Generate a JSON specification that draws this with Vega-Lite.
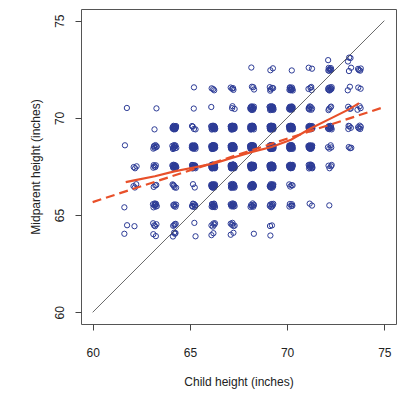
{
"$schema": "https://vega.github.io/schema/vega-lite/v6.json",
"width": 315, "height": 315,
"autosize": {"type": "none"},
"padding": {"left": 81, "top": 9, "right": 9, "bottom": 71},
"background": "white",
"config": {
"view": {"stroke": "#555555", "strokeWidth": 1},
"font": "Liberation Sans",
"axis": {"grid": false, "domain": false, "tickColor": "#444444", "tickSize": 6, "tickWidth": 1, "labelFont": "Liberation Sans", "labelFontSize": 12, "labelColor": "#222222", "titleFont": "Liberation Sans", "titleFontSize": 12, "titleFontWeight": "normal", "titleColor": "#222222"}
},
"datasets": {
"diag": [{"c":60,"p":60},{"c":75,"p":75}],
"reg": [{"c":60,"p":65.67},{"c":75,"p":70.56}],
"lo": [{"c":61.7,"p":66.70},{"c":62.2,"p":66.80},{"c":63.2,"p":67.00},{"c":64.2,"p":67.25},{"c":65.2,"p":67.45},{"c":66.2,"p":67.65},{"c":67.2,"p":67.95},{"c":68.2,"p":68.25},{"c":69.2,"p":68.50},{"c":70.2,"p":68.88},{"c":71.2,"p":69.45},{"c":72.2,"p":69.95},{"c":73.2,"p":70.45},{"c":73.7,"p":70.76}],
"pts": [
{"c":72.11,"p":72.97},{"c":73.19,"p":73.10},{"c":73.26,"p":73.08},{"c":73.13,"p":72.90},
{"c":68.16,"p":72.59},{"c":69.27,"p":72.55},{"c":69.14,"p":72.45},{"c":70.24,"p":72.44},{"c":71.28,"p":72.53},{"c":71.11,"p":72.58},
{"c":72.18,"p":72.51},{"c":72.25,"p":72.56},{"c":72.12,"p":72.44},{"c":72.22,"p":72.47},{"c":72.14,"p":72.57},{"c":72.27,"p":72.48},{"c":72.17,"p":72.42},
{"c":73.29,"p":72.58},{"c":73.18,"p":72.41},{"c":73.76,"p":72.43},{"c":73.65,"p":72.52},{"c":73.79,"p":72.54},{"c":73.69,"p":72.46},
{"c":65.21,"p":71.57},{"c":66.25,"p":71.42},{"c":66.12,"p":71.52},{"c":66.20,"p":71.48},
{"c":67.22,"p":71.53},{"c":67.10,"p":71.56},{"c":67.24,"p":71.44},{"c":67.17,"p":71.50},
{"c":68.30,"p":71.46},{"c":68.19,"p":71.60},{"c":68.26,"p":71.58},
{"c":69.13,"p":71.40},{"c":69.23,"p":71.54},{"c":69.16,"p":71.47},{"c":69.28,"p":71.53},{"c":69.11,"p":71.58},
{"c":70.21,"p":71.43},{"c":70.15,"p":71.55},{"c":70.29,"p":71.41},{"c":70.18,"p":71.51},{"c":70.25,"p":71.56},{"c":70.12,"p":71.44},{"c":70.22,"p":71.47},{"c":70.14,"p":71.57},{"c":70.27,"p":71.48},{"c":70.17,"p":71.42},
{"c":71.24,"p":71.59},{"c":71.10,"p":71.49},{"c":71.20,"p":71.55},{"c":71.26,"p":71.43},
{"c":72.23,"p":71.45},{"c":72.13,"p":71.54},{"c":72.29,"p":71.58},{"c":72.18,"p":71.41},{"c":72.26,"p":71.51},{"c":72.11,"p":71.47},{"c":72.21,"p":71.57},{"c":72.15,"p":71.43},{"c":72.28,"p":71.49},
{"c":73.23,"p":71.60},{"c":73.12,"p":71.42},{"c":73.78,"p":71.50},{"c":73.66,"p":71.56},
{"c":61.76,"p":70.51},{"c":63.28,"p":70.49},{"c":65.20,"p":70.48},{"c":66.10,"p":70.56},
{"c":67.17,"p":70.50},{"c":67.30,"p":70.46},{"c":67.19,"p":70.60},
{"c":68.23,"p":70.45},{"c":68.13,"p":70.54},{"c":68.29,"p":70.58},{"c":68.18,"p":70.41},{"c":68.26,"p":70.51},{"c":68.11,"p":70.47},{"c":68.21,"p":70.57},{"c":68.15,"p":70.43},{"c":68.28,"p":70.49},{"c":68.16,"p":70.59},{"c":68.25,"p":70.42},{"c":68.12,"p":70.52},
{"c":69.20,"p":70.48},{"c":69.27,"p":70.55},{"c":69.14,"p":70.45},{"c":69.22,"p":70.53},{"c":69.10,"p":70.56},{"c":69.24,"p":70.44},{"c":69.17,"p":70.50},{"c":69.30,"p":70.46},{"c":69.19,"p":70.60},{"c":69.26,"p":70.58},{"c":69.13,"p":70.40},{"c":69.23,"p":70.54},{"c":69.16,"p":70.47},{"c":69.28,"p":70.53},{"c":69.11,"p":70.58},{"c":69.21,"p":70.43},{"c":69.15,"p":70.55},{"c":69.29,"p":70.41},
{"c":70.18,"p":70.51},{"c":70.25,"p":70.56},{"c":70.12,"p":70.44},{"c":70.22,"p":70.47},{"c":70.14,"p":70.57},{"c":70.27,"p":70.48},{"c":70.17,"p":70.42},{"c":70.24,"p":70.59},{"c":70.10,"p":70.49},{"c":70.20,"p":70.55},{"c":70.26,"p":70.43},{"c":70.15,"p":70.52},{"c":70.29,"p":70.54},{"c":70.19,"p":70.46},
{"c":71.11,"p":70.47},{"c":71.21,"p":70.57},{"c":71.15,"p":70.43},{"c":71.28,"p":70.49},{"c":71.16,"p":70.59},{"c":71.25,"p":70.42},{"c":71.12,"p":70.52},
{"c":72.26,"p":70.58},{"c":72.13,"p":70.40},{"c":72.23,"p":70.54},{"c":72.16,"p":70.47},
{"c":73.22,"p":70.47},{"c":73.14,"p":70.57},{"c":73.27,"p":70.48},
{"c":73.73,"p":70.60},{"c":73.62,"p":70.42},{"c":73.78,"p":70.50},
{"c":63.18,"p":69.41},
{"c":64.23,"p":69.45},{"c":64.13,"p":69.54},{"c":64.29,"p":69.58},{"c":64.18,"p":69.41},{"c":64.26,"p":69.51},{"c":64.11,"p":69.47},{"c":64.21,"p":69.57},{"c":64.15,"p":69.43},{"c":64.28,"p":69.49},{"c":64.16,"p":69.59},{"c":64.25,"p":69.42},{"c":64.12,"p":69.52},{"c":64.20,"p":69.48},{"c":64.27,"p":69.55},{"c":64.14,"p":69.45},{"c":64.22,"p":69.53},
{"c":65.11,"p":69.58},{"c":65.21,"p":69.43},{"c":65.15,"p":69.55},{"c":65.29,"p":69.41},
{"c":66.10,"p":69.56},{"c":66.24,"p":69.44},{"c":66.17,"p":69.50},{"c":66.30,"p":69.46},{"c":66.19,"p":69.60},{"c":66.26,"p":69.58},{"c":66.13,"p":69.40},{"c":66.23,"p":69.54},{"c":66.16,"p":69.47},{"c":66.28,"p":69.53},{"c":66.11,"p":69.58},{"c":66.21,"p":69.43},{"c":66.15,"p":69.55},{"c":66.29,"p":69.41},{"c":66.18,"p":69.51},{"c":66.25,"p":69.56},{"c":66.12,"p":69.44},
{"c":67.23,"p":69.45},{"c":67.13,"p":69.54},{"c":67.29,"p":69.58},{"c":67.18,"p":69.41},{"c":67.26,"p":69.51},{"c":67.11,"p":69.47},{"c":67.21,"p":69.57},{"c":67.15,"p":69.43},{"c":67.28,"p":69.49},{"c":67.16,"p":69.59},{"c":67.25,"p":69.42},{"c":67.12,"p":69.52},{"c":67.20,"p":69.48},{"c":67.27,"p":69.55},{"c":67.14,"p":69.45},{"c":67.22,"p":69.53},{"c":67.10,"p":69.56},{"c":67.24,"p":69.44},{"c":67.17,"p":69.50},{"c":67.30,"p":69.46},{"c":67.19,"p":69.60},{"c":67.26,"p":69.58},{"c":67.13,"p":69.40},{"c":67.23,"p":69.54},{"c":67.16,"p":69.47},{"c":67.28,"p":69.53},{"c":67.11,"p":69.58},
{"c":68.19,"p":69.60},{"c":68.26,"p":69.58},{"c":68.13,"p":69.40},{"c":68.23,"p":69.54},{"c":68.16,"p":69.47},{"c":68.28,"p":69.53},{"c":68.11,"p":69.58},{"c":68.21,"p":69.43},{"c":68.15,"p":69.55},{"c":68.29,"p":69.41},{"c":68.18,"p":69.51},{"c":68.25,"p":69.56},{"c":68.12,"p":69.44},{"c":68.22,"p":69.47},{"c":68.14,"p":69.57},{"c":68.27,"p":69.48},{"c":68.17,"p":69.42},{"c":68.24,"p":69.59},{"c":68.10,"p":69.49},{"c":68.20,"p":69.55},
{"c":69.23,"p":69.45},{"c":69.13,"p":69.54},{"c":69.29,"p":69.58},{"c":69.18,"p":69.41},{"c":69.26,"p":69.51},{"c":69.11,"p":69.47},{"c":69.21,"p":69.57},{"c":69.15,"p":69.43},{"c":69.28,"p":69.49},{"c":69.16,"p":69.59},{"c":69.25,"p":69.42},{"c":69.12,"p":69.52},{"c":69.20,"p":69.48},{"c":69.27,"p":69.55},{"c":69.14,"p":69.45},{"c":69.22,"p":69.53},{"c":69.10,"p":69.56},{"c":69.24,"p":69.44},{"c":69.17,"p":69.50},{"c":69.30,"p":69.46},{"c":69.19,"p":69.60},{"c":69.26,"p":69.58},{"c":69.13,"p":69.40},{"c":69.23,"p":69.54},{"c":69.16,"p":69.47},{"c":69.28,"p":69.53},{"c":69.11,"p":69.58},{"c":69.21,"p":69.43},{"c":69.15,"p":69.55},{"c":69.29,"p":69.41},{"c":69.18,"p":69.51},{"c":69.25,"p":69.56},{"c":69.12,"p":69.44},
{"c":70.25,"p":69.42},{"c":70.12,"p":69.52},{"c":70.20,"p":69.48},{"c":70.27,"p":69.55},{"c":70.14,"p":69.45},{"c":70.22,"p":69.53},{"c":70.10,"p":69.56},{"c":70.24,"p":69.44},{"c":70.17,"p":69.50},{"c":70.30,"p":69.46},{"c":70.19,"p":69.60},{"c":70.26,"p":69.58},{"c":70.13,"p":69.40},{"c":70.23,"p":69.54},{"c":70.16,"p":69.47},{"c":70.28,"p":69.53},{"c":70.11,"p":69.58},{"c":70.21,"p":69.43},{"c":70.15,"p":69.55},{"c":70.29,"p":69.41},{"c":70.18,"p":69.51},{"c":70.25,"p":69.56},{"c":70.12,"p":69.44},{"c":70.22,"p":69.47},{"c":70.14,"p":69.57},
{"c":71.23,"p":69.45},{"c":71.13,"p":69.54},{"c":71.29,"p":69.58},{"c":71.18,"p":69.41},{"c":71.26,"p":69.51},{"c":71.11,"p":69.47},{"c":71.21,"p":69.57},{"c":71.15,"p":69.43},{"c":71.28,"p":69.49},{"c":71.16,"p":69.59},{"c":71.25,"p":69.42},{"c":71.12,"p":69.52},{"c":71.20,"p":69.48},{"c":71.27,"p":69.55},{"c":71.14,"p":69.45},{"c":71.22,"p":69.53},{"c":71.10,"p":69.56},{"c":71.24,"p":69.44},{"c":71.17,"p":69.50},{"c":71.30,"p":69.46},
{"c":72.15,"p":69.55},{"c":72.29,"p":69.41},{"c":72.18,"p":69.51},{"c":72.25,"p":69.56},{"c":72.12,"p":69.44},{"c":72.22,"p":69.47},{"c":72.14,"p":69.57},{"c":72.27,"p":69.48},{"c":72.17,"p":69.42},{"c":72.24,"p":69.59},{"c":72.10,"p":69.49},
{"c":73.21,"p":69.57},{"c":73.15,"p":69.43},{"c":73.28,"p":69.49},{"c":73.16,"p":69.59},
{"c":73.76,"p":69.43},{"c":73.65,"p":69.52},{"c":73.79,"p":69.54},{"c":73.69,"p":69.46},{"c":73.73,"p":69.60},
{"c":61.66,"p":68.59},
{"c":63.15,"p":68.52},{"c":63.29,"p":68.54},{"c":63.19,"p":68.46},{"c":63.23,"p":68.60},{"c":63.12,"p":68.42},{"c":63.28,"p":68.50},{"c":63.16,"p":68.56},
{"c":64.14,"p":68.45},{"c":64.22,"p":68.53},{"c":64.10,"p":68.56},{"c":64.24,"p":68.44},{"c":64.17,"p":68.50},{"c":64.30,"p":68.46},{"c":64.19,"p":68.60},{"c":64.26,"p":68.58},{"c":64.13,"p":68.40},{"c":64.23,"p":68.54},{"c":64.16,"p":68.47},
{"c":65.16,"p":68.47},{"c":65.28,"p":68.53},{"c":65.11,"p":68.58},{"c":65.21,"p":68.43},{"c":65.15,"p":68.55},{"c":65.29,"p":68.41},{"c":65.18,"p":68.51},{"c":65.25,"p":68.56},{"c":65.12,"p":68.44},{"c":65.22,"p":68.47},{"c":65.14,"p":68.57},{"c":65.27,"p":68.48},{"c":65.17,"p":68.42},{"c":65.24,"p":68.59},{"c":65.10,"p":68.49},{"c":65.20,"p":68.55},
{"c":66.23,"p":68.45},{"c":66.13,"p":68.54},{"c":66.29,"p":68.58},{"c":66.18,"p":68.41},{"c":66.26,"p":68.51},{"c":66.11,"p":68.47},{"c":66.21,"p":68.57},{"c":66.15,"p":68.43},{"c":66.28,"p":68.49},{"c":66.16,"p":68.59},{"c":66.25,"p":68.42},{"c":66.12,"p":68.52},{"c":66.20,"p":68.48},{"c":66.27,"p":68.55},{"c":66.14,"p":68.45},{"c":66.22,"p":68.53},{"c":66.10,"p":68.56},{"c":66.24,"p":68.44},{"c":66.17,"p":68.50},{"c":66.30,"p":68.46},{"c":66.19,"p":68.60},{"c":66.26,"p":68.58},{"c":66.13,"p":68.40},{"c":66.23,"p":68.54},{"c":66.16,"p":68.47},
{"c":67.20,"p":68.48},{"c":67.27,"p":68.55},{"c":67.14,"p":68.45},{"c":67.22,"p":68.53},{"c":67.10,"p":68.56},{"c":67.24,"p":68.44},{"c":67.17,"p":68.50},{"c":67.30,"p":68.46},{"c":67.19,"p":68.60},{"c":67.26,"p":68.58},{"c":67.13,"p":68.40},{"c":67.23,"p":68.54},{"c":67.16,"p":68.47},{"c":67.28,"p":68.53},{"c":67.11,"p":68.58},{"c":67.21,"p":68.43},{"c":67.15,"p":68.55},{"c":67.29,"p":68.41},{"c":67.18,"p":68.51},{"c":67.25,"p":68.56},{"c":67.12,"p":68.44},{"c":67.22,"p":68.47},{"c":67.14,"p":68.57},{"c":67.27,"p":68.48},{"c":67.17,"p":68.42},{"c":67.24,"p":68.59},{"c":67.10,"p":68.49},{"c":67.20,"p":68.55},{"c":67.26,"p":68.43},{"c":67.15,"p":68.52},{"c":67.29,"p":68.54},
{"c":68.23,"p":68.45},{"c":68.13,"p":68.54},{"c":68.29,"p":68.58},{"c":68.18,"p":68.41},{"c":68.26,"p":68.51},{"c":68.11,"p":68.47},{"c":68.21,"p":68.57},{"c":68.15,"p":68.43},{"c":68.28,"p":68.49},{"c":68.16,"p":68.59},{"c":68.25,"p":68.42},{"c":68.12,"p":68.52},{"c":68.20,"p":68.48},{"c":68.27,"p":68.55},{"c":68.14,"p":68.45},{"c":68.22,"p":68.53},{"c":68.10,"p":68.56},{"c":68.24,"p":68.44},{"c":68.17,"p":68.50},{"c":68.30,"p":68.46},{"c":68.19,"p":68.60},{"c":68.26,"p":68.58},{"c":68.13,"p":68.40},{"c":68.23,"p":68.54},{"c":68.16,"p":68.47},{"c":68.28,"p":68.53},{"c":68.11,"p":68.58},{"c":68.21,"p":68.43},{"c":68.15,"p":68.55},{"c":68.29,"p":68.41},{"c":68.18,"p":68.51},{"c":68.25,"p":68.56},{"c":68.12,"p":68.44},{"c":68.22,"p":68.47},
{"c":69.23,"p":68.45},{"c":69.13,"p":68.54},{"c":69.29,"p":68.58},{"c":69.18,"p":68.41},{"c":69.26,"p":68.51},{"c":69.11,"p":68.47},{"c":69.21,"p":68.57},{"c":69.15,"p":68.43},{"c":69.28,"p":68.49},{"c":69.16,"p":68.59},{"c":69.25,"p":68.42},{"c":69.12,"p":68.52},{"c":69.20,"p":68.48},{"c":69.27,"p":68.55},{"c":69.14,"p":68.45},{"c":69.22,"p":68.53},{"c":69.10,"p":68.56},{"c":69.24,"p":68.44},{"c":69.17,"p":68.50},{"c":69.30,"p":68.46},{"c":69.19,"p":68.60},{"c":69.26,"p":68.58},{"c":69.13,"p":68.40},{"c":69.23,"p":68.54},{"c":69.16,"p":68.47},{"c":69.28,"p":68.53},{"c":69.11,"p":68.58},{"c":69.21,"p":68.43},{"c":69.15,"p":68.55},{"c":69.29,"p":68.41},{"c":69.18,"p":68.51},{"c":69.25,"p":68.56},{"c":69.12,"p":68.44},{"c":69.22,"p":68.47},{"c":69.14,"p":68.57},{"c":69.27,"p":68.48},{"c":69.17,"p":68.42},{"c":69.24,"p":68.59},{"c":69.10,"p":68.49},{"c":69.20,"p":68.55},{"c":69.26,"p":68.43},{"c":69.15,"p":68.52},{"c":69.29,"p":68.54},{"c":69.19,"p":68.46},{"c":69.23,"p":68.60},{"c":69.12,"p":68.42},{"c":69.28,"p":68.50},{"c":69.16,"p":68.56},
{"c":70.19,"p":68.60},{"c":70.26,"p":68.58},{"c":70.13,"p":68.40},{"c":70.23,"p":68.54},{"c":70.16,"p":68.47},{"c":70.28,"p":68.53},{"c":70.11,"p":68.58},{"c":70.21,"p":68.43},{"c":70.15,"p":68.55},{"c":70.29,"p":68.41},{"c":70.18,"p":68.51},{"c":70.25,"p":68.56},{"c":70.12,"p":68.44},{"c":70.22,"p":68.47},{"c":70.14,"p":68.57},{"c":70.27,"p":68.48},{"c":70.17,"p":68.42},{"c":70.24,"p":68.59},{"c":70.10,"p":68.49},{"c":70.20,"p":68.55},{"c":70.26,"p":68.43},
{"c":71.23,"p":68.45},{"c":71.13,"p":68.54},{"c":71.29,"p":68.58},{"c":71.18,"p":68.41},{"c":71.26,"p":68.51},{"c":71.11,"p":68.47},{"c":71.21,"p":68.57},{"c":71.15,"p":68.43},{"c":71.28,"p":68.49},{"c":71.16,"p":68.59},{"c":71.25,"p":68.42},{"c":71.12,"p":68.52},{"c":71.20,"p":68.48},{"c":71.27,"p":68.55},{"c":71.14,"p":68.45},{"c":71.22,"p":68.53},{"c":71.10,"p":68.56},{"c":71.24,"p":68.44},
{"c":72.27,"p":68.48},{"c":72.17,"p":68.42},{"c":72.24,"p":68.59},{"c":72.10,"p":68.49},
{"c":73.24,"p":68.44},{"c":73.17,"p":68.50},{"c":73.30,"p":68.46},
{"c":62.18,"p":67.41},{"c":62.26,"p":67.51},{"c":62.11,"p":67.47},
{"c":63.18,"p":67.51},{"c":63.25,"p":67.56},{"c":63.12,"p":67.44},{"c":63.22,"p":67.47},{"c":63.14,"p":67.57},
{"c":64.21,"p":67.57},{"c":64.15,"p":67.43},{"c":64.28,"p":67.49},{"c":64.16,"p":67.59},{"c":64.25,"p":67.42},{"c":64.12,"p":67.52},{"c":64.20,"p":67.48},{"c":64.27,"p":67.55},{"c":64.14,"p":67.45},{"c":64.22,"p":67.53},{"c":64.10,"p":67.56},{"c":64.24,"p":67.44},{"c":64.17,"p":67.50},{"c":64.30,"p":67.46},
{"c":65.13,"p":67.40},{"c":65.23,"p":67.54},{"c":65.16,"p":67.47},{"c":65.28,"p":67.53},{"c":65.11,"p":67.58},{"c":65.21,"p":67.43},{"c":65.15,"p":67.55},{"c":65.29,"p":67.41},{"c":65.18,"p":67.51},{"c":65.25,"p":67.56},{"c":65.12,"p":67.44},{"c":65.22,"p":67.47},{"c":65.14,"p":67.57},{"c":65.27,"p":67.48},{"c":65.17,"p":67.42},
{"c":66.23,"p":67.45},{"c":66.13,"p":67.54},{"c":66.29,"p":67.58},{"c":66.18,"p":67.41},{"c":66.26,"p":67.51},{"c":66.11,"p":67.47},{"c":66.21,"p":67.57},{"c":66.15,"p":67.43},{"c":66.28,"p":67.49},{"c":66.16,"p":67.59},{"c":66.25,"p":67.42},{"c":66.12,"p":67.52},{"c":66.20,"p":67.48},{"c":66.27,"p":67.55},{"c":66.14,"p":67.45},{"c":66.22,"p":67.53},{"c":66.10,"p":67.56},{"c":66.24,"p":67.44},{"c":66.17,"p":67.50},{"c":66.30,"p":67.46},{"c":66.19,"p":67.60},{"c":66.26,"p":67.58},{"c":66.13,"p":67.40},{"c":66.23,"p":67.54},{"c":66.16,"p":67.47},{"c":66.28,"p":67.53},{"c":66.11,"p":67.58},{"c":66.21,"p":67.43},{"c":66.15,"p":67.55},{"c":66.29,"p":67.41},{"c":66.18,"p":67.51},{"c":66.25,"p":67.56},{"c":66.12,"p":67.44},{"c":66.22,"p":67.47},{"c":66.14,"p":67.57},{"c":66.27,"p":67.48},
{"c":67.25,"p":67.42},{"c":67.12,"p":67.52},{"c":67.20,"p":67.48},{"c":67.27,"p":67.55},{"c":67.14,"p":67.45},{"c":67.22,"p":67.53},{"c":67.10,"p":67.56},{"c":67.24,"p":67.44},{"c":67.17,"p":67.50},{"c":67.30,"p":67.46},{"c":67.19,"p":67.60},{"c":67.26,"p":67.58},{"c":67.13,"p":67.40},{"c":67.23,"p":67.54},{"c":67.16,"p":67.47},{"c":67.28,"p":67.53},{"c":67.11,"p":67.58},{"c":67.21,"p":67.43},{"c":67.15,"p":67.55},{"c":67.29,"p":67.41},{"c":67.18,"p":67.51},{"c":67.25,"p":67.56},{"c":67.12,"p":67.44},{"c":67.22,"p":67.47},{"c":67.14,"p":67.57},{"c":67.27,"p":67.48},{"c":67.17,"p":67.42},{"c":67.24,"p":67.59},{"c":67.10,"p":67.49},{"c":67.20,"p":67.55},{"c":67.26,"p":67.43},{"c":67.15,"p":67.52},{"c":67.29,"p":67.54},{"c":67.19,"p":67.46},{"c":67.23,"p":67.60},{"c":67.12,"p":67.42},{"c":67.28,"p":67.50},{"c":67.16,"p":67.56},
{"c":68.23,"p":67.45},{"c":68.13,"p":67.54},{"c":68.29,"p":67.58},{"c":68.18,"p":67.41},{"c":68.26,"p":67.51},{"c":68.11,"p":67.47},{"c":68.21,"p":67.57},{"c":68.15,"p":67.43},{"c":68.28,"p":67.49},{"c":68.16,"p":67.59},{"c":68.25,"p":67.42},{"c":68.12,"p":67.52},{"c":68.20,"p":67.48},{"c":68.27,"p":67.55},{"c":68.14,"p":67.45},{"c":68.22,"p":67.53},{"c":68.10,"p":67.56},{"c":68.24,"p":67.44},{"c":68.17,"p":67.50},{"c":68.30,"p":67.46},{"c":68.19,"p":67.60},{"c":68.26,"p":67.58},{"c":68.13,"p":67.40},{"c":68.23,"p":67.54},{"c":68.16,"p":67.47},{"c":68.28,"p":67.53},{"c":68.11,"p":67.58},{"c":68.21,"p":67.43},
{"c":69.21,"p":67.57},{"c":69.15,"p":67.43},{"c":69.28,"p":67.49},{"c":69.16,"p":67.59},{"c":69.25,"p":67.42},{"c":69.12,"p":67.52},{"c":69.20,"p":67.48},{"c":69.27,"p":67.55},{"c":69.14,"p":67.45},{"c":69.22,"p":67.53},{"c":69.10,"p":67.56},{"c":69.24,"p":67.44},{"c":69.17,"p":67.50},{"c":69.30,"p":67.46},{"c":69.19,"p":67.60},{"c":69.26,"p":67.58},{"c":69.13,"p":67.40},{"c":69.23,"p":67.54},{"c":69.16,"p":67.47},{"c":69.28,"p":67.53},{"c":69.11,"p":67.58},{"c":69.21,"p":67.43},{"c":69.15,"p":67.55},{"c":69.29,"p":67.41},{"c":69.18,"p":67.51},{"c":69.25,"p":67.56},{"c":69.12,"p":67.44},{"c":69.22,"p":67.47},{"c":69.14,"p":67.57},{"c":69.27,"p":67.48},{"c":69.17,"p":67.42},{"c":69.24,"p":67.59},{"c":69.10,"p":67.49},{"c":69.20,"p":67.55},{"c":69.26,"p":67.43},{"c":69.15,"p":67.52},{"c":69.29,"p":67.54},{"c":69.19,"p":67.46},
{"c":70.23,"p":67.45},{"c":70.13,"p":67.54},{"c":70.29,"p":67.58},{"c":70.18,"p":67.41},{"c":70.26,"p":67.51},{"c":70.11,"p":67.47},{"c":70.21,"p":67.57},{"c":70.15,"p":67.43},{"c":70.28,"p":67.49},{"c":70.16,"p":67.59},{"c":70.25,"p":67.42},{"c":70.12,"p":67.52},{"c":70.20,"p":67.48},{"c":70.27,"p":67.55},{"c":70.14,"p":67.45},{"c":70.22,"p":67.53},{"c":70.10,"p":67.56},{"c":70.24,"p":67.44},{"c":70.17,"p":67.50},
{"c":71.30,"p":67.46},{"c":71.19,"p":67.60},{"c":71.26,"p":67.58},{"c":71.13,"p":67.40},{"c":71.23,"p":67.54},{"c":71.16,"p":67.47},{"c":71.28,"p":67.53},{"c":71.11,"p":67.58},{"c":71.21,"p":67.43},{"c":71.15,"p":67.55},{"c":71.29,"p":67.41},
{"c":72.13,"p":67.54},{"c":72.29,"p":67.58},{"c":72.18,"p":67.41},{"c":72.26,"p":67.51},
{"c":62.17,"p":66.42},{"c":62.24,"p":66.59},{"c":62.10,"p":66.49},
{"c":63.27,"p":66.55},{"c":63.14,"p":66.45},{"c":63.22,"p":66.53},
{"c":64.11,"p":66.58},{"c":64.21,"p":66.43},{"c":64.15,"p":66.55},{"c":64.29,"p":66.41},{"c":64.18,"p":66.51},
{"c":65.16,"p":66.59},{"c":65.25,"p":66.42},
{"c":66.23,"p":66.45},{"c":66.13,"p":66.54},{"c":66.29,"p":66.58},{"c":66.18,"p":66.41},{"c":66.26,"p":66.51},{"c":66.11,"p":66.47},{"c":66.21,"p":66.57},{"c":66.15,"p":66.43},{"c":66.28,"p":66.49},{"c":66.16,"p":66.59},{"c":66.25,"p":66.42},{"c":66.12,"p":66.52},{"c":66.20,"p":66.48},{"c":66.27,"p":66.55},{"c":66.14,"p":66.45},{"c":66.22,"p":66.53},{"c":66.10,"p":66.56},
{"c":67.24,"p":66.44},{"c":67.17,"p":66.50},{"c":67.30,"p":66.46},{"c":67.19,"p":66.60},{"c":67.26,"p":66.58},{"c":67.13,"p":66.40},{"c":67.23,"p":66.54},{"c":67.16,"p":66.47},{"c":67.28,"p":66.53},{"c":67.11,"p":66.58},{"c":67.21,"p":66.43},{"c":67.15,"p":66.55},{"c":67.29,"p":66.41},{"c":67.18,"p":66.51},{"c":67.25,"p":66.56},{"c":67.12,"p":66.44},{"c":67.22,"p":66.47},
{"c":68.14,"p":66.57},{"c":68.27,"p":66.48},{"c":68.17,"p":66.42},{"c":68.24,"p":66.59},{"c":68.10,"p":66.49},{"c":68.20,"p":66.55},{"c":68.26,"p":66.43},{"c":68.15,"p":66.52},{"c":68.29,"p":66.54},{"c":68.19,"p":66.46},{"c":68.23,"p":66.60},{"c":68.12,"p":66.42},{"c":68.28,"p":66.50},{"c":68.16,"p":66.56},
{"c":69.29,"p":66.58},{"c":69.18,"p":66.41},{"c":69.26,"p":66.51},{"c":69.11,"p":66.47},{"c":69.21,"p":66.57},{"c":69.15,"p":66.43},{"c":69.28,"p":66.49},{"c":69.16,"p":66.59},{"c":69.25,"p":66.42},{"c":69.12,"p":66.52},{"c":69.20,"p":66.48},{"c":69.27,"p":66.55},{"c":69.14,"p":66.45},
{"c":70.23,"p":66.54},{"c":70.16,"p":66.47},{"c":70.28,"p":66.53},{"c":70.11,"p":66.58},
{"c":61.63,"p":65.40},
{"c":63.22,"p":65.53},{"c":63.10,"p":65.56},{"c":63.24,"p":65.44},{"c":63.17,"p":65.50},{"c":63.30,"p":65.46},{"c":63.19,"p":65.60},{"c":63.26,"p":65.58},{"c":63.13,"p":65.40},{"c":63.23,"p":65.54},
{"c":64.20,"p":65.55},{"c":64.26,"p":65.43},{"c":64.15,"p":65.52},{"c":64.29,"p":65.54},{"c":64.19,"p":65.46},
{"c":65.26,"p":65.51},{"c":65.11,"p":65.47},{"c":65.21,"p":65.57},{"c":65.15,"p":65.43},{"c":65.28,"p":65.49},{"c":65.16,"p":65.59},{"c":65.25,"p":65.42},
{"c":66.21,"p":65.43},{"c":66.15,"p":65.55},{"c":66.29,"p":65.41},{"c":66.18,"p":65.51},{"c":66.25,"p":65.56},{"c":66.12,"p":65.44},{"c":66.22,"p":65.47},{"c":66.14,"p":65.57},{"c":66.27,"p":65.48},{"c":66.17,"p":65.42},{"c":66.24,"p":65.59},
{"c":67.12,"p":65.52},{"c":67.20,"p":65.48},{"c":67.27,"p":65.55},{"c":67.14,"p":65.45},{"c":67.22,"p":65.53},{"c":67.10,"p":65.56},{"c":67.24,"p":65.44},{"c":67.17,"p":65.50},{"c":67.30,"p":65.46},{"c":67.19,"p":65.60},{"c":67.26,"p":65.58},
{"c":68.26,"p":65.43},{"c":68.15,"p":65.52},{"c":68.29,"p":65.54},{"c":68.19,"p":65.46},{"c":68.23,"p":65.60},{"c":68.12,"p":65.42},{"c":68.28,"p":65.50},
{"c":69.23,"p":65.45},{"c":69.13,"p":65.54},{"c":69.29,"p":65.58},{"c":69.18,"p":65.41},{"c":69.26,"p":65.51},{"c":69.11,"p":65.47},{"c":69.21,"p":65.57},
{"c":70.25,"p":65.56},{"c":70.12,"p":65.44},{"c":70.22,"p":65.47},{"c":70.14,"p":65.57},{"c":70.27,"p":65.48},
{"c":71.28,"p":65.49},{"c":71.16,"p":65.59},
{"c":72.17,"p":65.50},
{"c":61.77,"p":64.48},{"c":62.15,"p":64.43},
{"c":63.16,"p":64.47},{"c":63.28,"p":64.53},{"c":63.11,"p":64.58},{"c":63.21,"p":64.43},
{"c":64.20,"p":64.48},{"c":64.27,"p":64.55},{"c":64.14,"p":64.45},{"c":64.22,"p":64.53},
{"c":65.23,"p":64.60},
{"c":66.29,"p":64.58},{"c":66.18,"p":64.41},{"c":66.26,"p":64.51},{"c":66.11,"p":64.47},{"c":66.21,"p":64.57},
{"c":67.10,"p":64.56},{"c":67.24,"p":64.44},{"c":67.17,"p":64.50},{"c":67.30,"p":64.46},{"c":67.19,"p":64.60},
{"c":69.12,"p":64.44},{"c":69.22,"p":64.47},
{"c":61.63,"p":64.04},
{"c":63.25,"p":63.92},{"c":63.12,"p":64.02},
{"c":64.19,"p":64.10},{"c":64.26,"p":64.08},{"c":64.13,"p":63.90},{"c":64.23,"p":64.04},
{"c":65.29,"p":63.91},
{"c":66.11,"p":63.97},{"c":66.21,"p":64.07},
{"c":67.24,"p":64.09},{"c":67.10,"p":63.99},
{"c":68.29,"p":64.04},
{"c":69.14,"p":63.95}
]
},
"encoding": {
"x": {"field": "c", "type": "quantitative", "scale": {"domain": [59.4, 75.6], "nice": false, "zero": false},
 "axis": {"values": [60, 65, 70, 75], "title": "Child height (inches)", "labelPadding": 17, "labelBaseline": "top", "labelAlign": "center", "labelFlush": false, "titleX": 157.5, "titleY": 57, "titleBaseline": "middle", "titleAlign": "center"}},
"y": {"field": "p", "type": "quantitative", "scale": {"domain": [59.4, 75.6], "nice": false, "zero": false},
 "axis": {"values": [60, 65, 70, 75], "title": "Midparent height (inches)", "labelAngle": 270, "labelAlign": "center", "labelBaseline": "alphabetic", "labelPadding": 12, "labelFlush": false, "titleX": -46, "titleY": 157.5, "titleAngle": 270, "titleBaseline": "middle", "titleAlign": "center"}}
},
"layer": [
{"data": {"name": "pts"}, "mark": {"type": "point", "shape": "circle", "filled": false, "size": 28, "strokeWidth": 1, "color": "#2c3b96", "opacity": 1}},
{"data": {"name": "diag"}, "mark": {"type": "line", "color": "#444444", "strokeWidth": 0.8}, "encoding": {}},
{"data": {"name": "reg"}, "mark": {"type": "line", "color": "#e8502a", "strokeWidth": 2.2, "strokeDash": [9, 5]}, "encoding": {}},
{"data": {"name": "lo"}, "mark": {"type": "line", "color": "#e8502a", "strokeWidth": 2.2}, "encoding": {}}
]
}
